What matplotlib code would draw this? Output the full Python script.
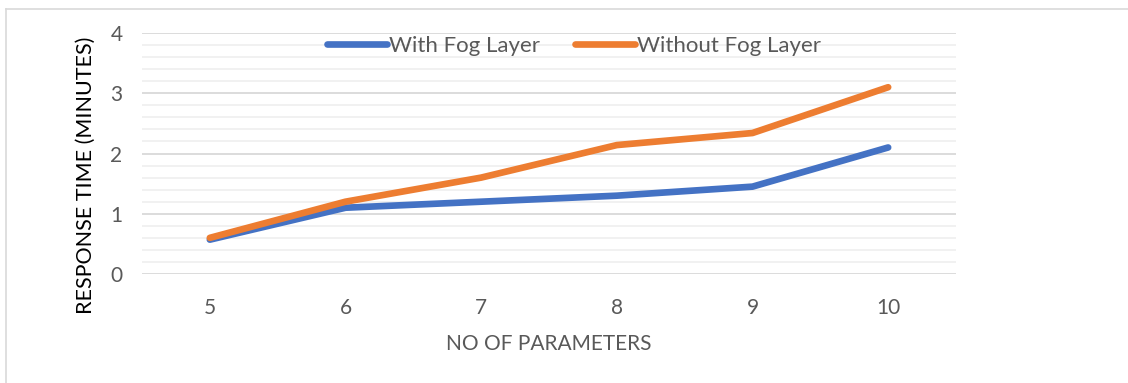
import matplotlib
matplotlib.use("Agg")
import matplotlib.pyplot as plt
from matplotlib.lines import Line2D
from matplotlib.ticker import MultipleLocator

params = [5, 6, 7, 8, 9, 10]
with_fog = [0.57, 1.1, 1.2, 1.3, 1.45, 2.1]
without_fog = [0.6, 1.2, 1.6, 2.14, 2.34, 3.1]
series_labels = ["With Fog Layer", "Without Fog Layer"]

plt.rcParams['font.family'] = ['Lato', 'DejaVu Sans']
txt = '#595959'

fig = plt.figure(figsize=(11.28, 3.83), dpi=100)
ax = fig.add_axes([142/1128, (383-274)/383, 814/1128, 241/383])

x = list(range(len(params)))
ax.plot(x, with_fog, color='#4472C4', lw=4.8, solid_capstyle='round', solid_joinstyle='round', label=series_labels[0], zorder=3)
ax.plot(x, without_fog, color='#ED7D31', lw=4.8, solid_capstyle='round', solid_joinstyle='round', label=series_labels[1], zorder=4)

ax.set_xlim(-0.5, len(params) - 0.5)
ax.set_ylim(0, 4)
ax.set_xticks(x)
ax.set_xticklabels([str(p) for p in params])
ax.yaxis.set_major_locator(MultipleLocator(1))
ax.yaxis.set_minor_locator(MultipleLocator(0.2))
ax.grid(which='major', axis='y', color='#D9D9D9', lw=1.3)
ax.grid(which='minor', axis='y', color='#F0F0F0', lw=1.3)
ax.set_axisbelow(True)
for s in ax.spines.values():
    s.set_visible(False)
ax.tick_params(which='both', length=0, labelsize=15, colors=txt)
ax.tick_params(axis='x', pad=17)
ax.tick_params(axis='y', pad=14)

ax.set_xlabel("NO OF PARAMETERS", fontsize=15, color=txt, labelpad=12)
fig.text(86/1128, 1 - 175/383, "RESPONSE TIME (MINUTES)", rotation=90, fontsize=15.5,
         color='black', ha='center', va='center')

leg = fig.legend(loc='center', bbox_to_anchor=(574/1128, 1 - 46/383), ncol=2, frameon=False,
                 fontsize=16, handlelength=2.7, handletextpad=0.08, columnspacing=1.6)
for t in leg.get_texts():
    t.set_color(txt)
for h in leg.get_lines():
    h.set_solid_capstyle('round')

fig.add_artist(Line2D([6/1128, 1], [1 - 9/383, 1 - 9/383], color='#D9D9D9', lw=1.2, transform=fig.transFigure))
fig.add_artist(Line2D([6/1128, 6/1128], [0, 1 - 9/383], color='#D9D9D9', lw=1.2, transform=fig.transFigure))

fig.savefig("out.png", dpi=100)
